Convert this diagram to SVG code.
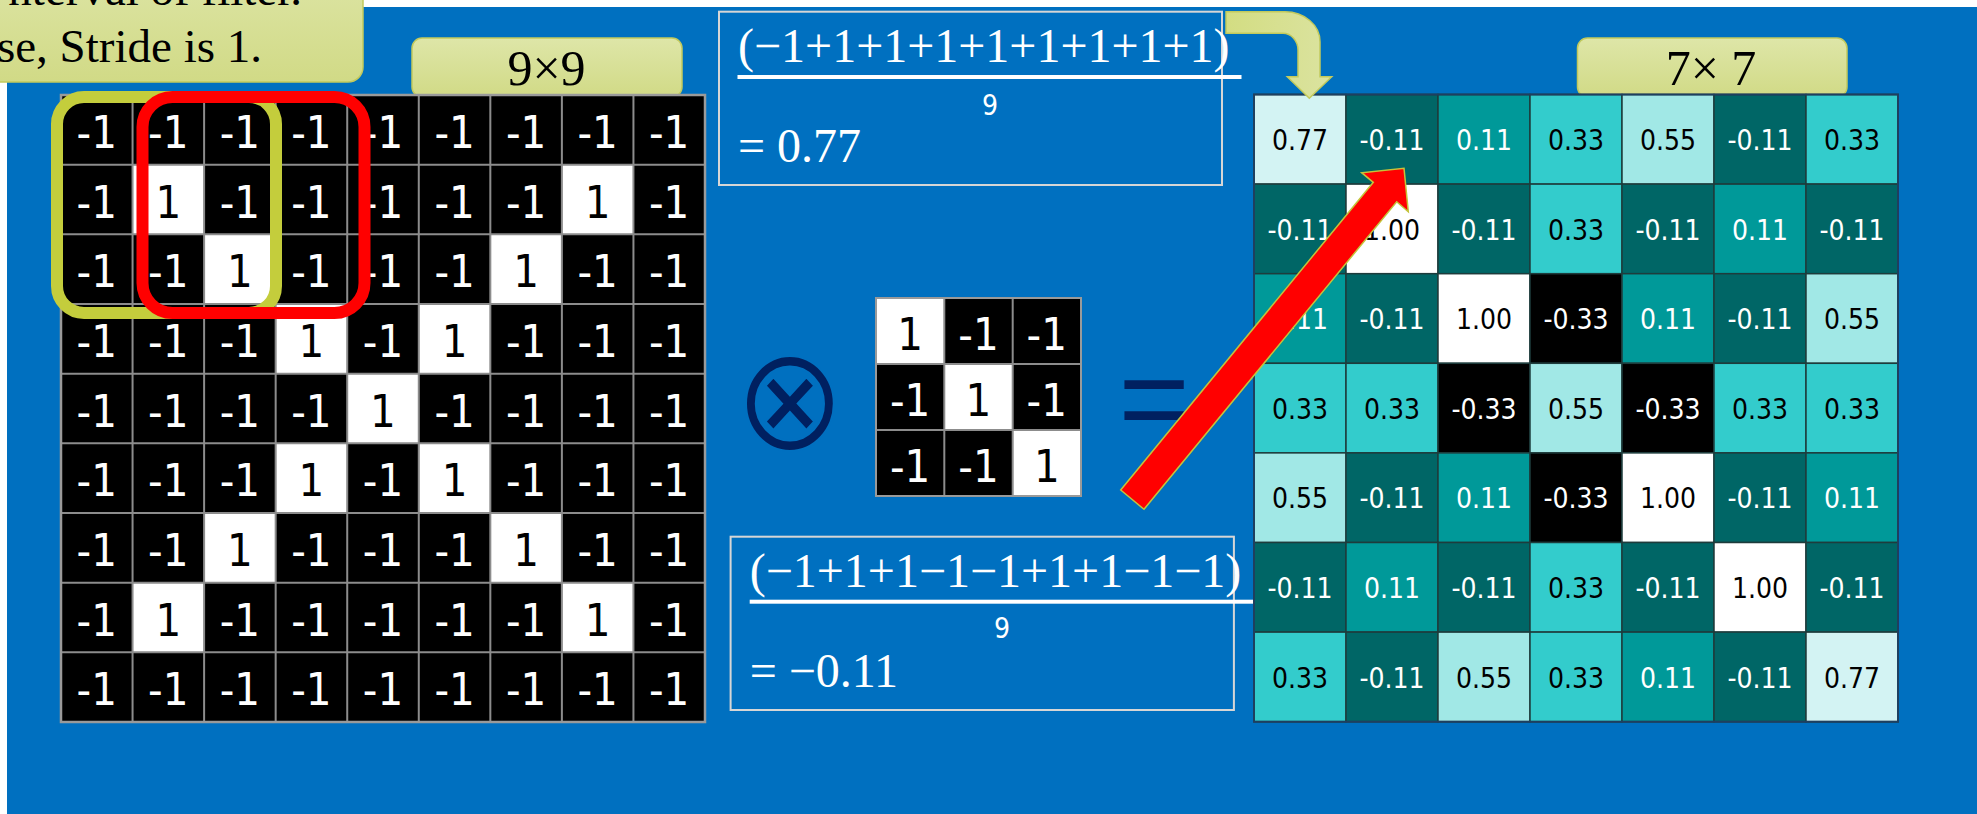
<svg xmlns="http://www.w3.org/2000/svg" width="1977" height="814" viewBox="0 0 1977 814">
<defs>
<linearGradient id="gy" x1="0" y1="0" x2="0" y2="1">
<stop offset="0" stop-color="#dee6a8"/>
<stop offset="1" stop-color="#d1da86"/>
</linearGradient>
<linearGradient id="ga" x1="0" y1="0" x2="1" y2="0">
<stop offset="0" stop-color="#d3dd82"/>
<stop offset="1" stop-color="#dbe3a0"/>
</linearGradient>
<style>
.num{font-family:"DejaVu Sans Condensed","DejaVu Sans",sans-serif;font-size:45px;text-anchor:middle}
.w{fill:#ffffff}
.b{fill:#000000}
.o{font-family:"DejaVu Sans Condensed","DejaVu Sans",sans-serif;font-size:28px;text-anchor:middle}
.ser{font-family:"Liberation Serif","Times New Roman",serif}
.frm{font-family:"Liberation Serif","Times New Roman",serif;font-size:48px;fill:#ffffff}
.nine{font-family:"DejaVu Sans Condensed","DejaVu Sans",sans-serif;font-size:28px;fill:#ffffff;text-anchor:middle}
.lbl{fill:url(#gy);stroke:#c2ca5c;stroke-width:1.5}
.gl{stroke:#8c8c8c;stroke-width:2}
.ol{stroke:#1e3c3c;stroke-width:1.5}
.cA{fill:#d3f3f3}.cB{fill:#006666}.cC{fill:#009999}.cD{fill:#33cccc}.cE{fill:#a1e8e6}.cF{fill:#ffffff}.cG{fill:#000000}
</style>
</defs>
<rect x="0" y="0" width="1977" height="814" fill="#ffffff"/>
<rect x="7" y="7" width="1970" height="807" fill="#0070c0"/>

<g id="callout">
<rect x="-40" y="-40" width="403" height="122" rx="15" class="lbl"/>
<text class="ser" x="302" y="5" font-size="47" text-anchor="end" fill="#000">nterval of filter.</text>
<text class="ser" x="262" y="62" font-size="47" text-anchor="end" fill="#000">se, Stride is 1.</text>
</g>

<g id="label-9x9">
<rect x="412" y="38" width="270" height="59" rx="10" class="lbl"/>
<text class="ser" x="546.5" y="85" font-size="50" text-anchor="middle" fill="#000">9×9</text>
</g>

<g id="input-grid">
<rect x="61" y="95" width="644" height="627" fill="#000"/>
<g fill="#fff">
<rect x="132.56" y="164.67" width="71.56" height="69.67"/>
<rect x="561.89" y="164.67" width="71.56" height="69.67"/>
<rect x="204.11" y="234.33" width="71.56" height="69.67"/>
<rect x="490.33" y="234.33" width="71.56" height="69.67"/>
<rect x="275.67" y="304" width="71.56" height="69.67"/>
<rect x="418.78" y="304" width="71.56" height="69.67"/>
<rect x="347.22" y="373.67" width="71.56" height="69.67"/>
<rect x="275.67" y="443.33" width="71.56" height="69.67"/>
<rect x="418.78" y="443.33" width="71.56" height="69.67"/>
<rect x="204.11" y="513" width="71.56" height="69.67"/>
<rect x="490.33" y="513" width="71.56" height="69.67"/>
<rect x="132.56" y="582.67" width="71.56" height="69.67"/>
<rect x="561.89" y="582.67" width="71.56" height="69.67"/>
</g>
<g class="gl">
<line x1="132.56" y1="95" x2="132.56" y2="722"/>
<line x1="204.11" y1="95" x2="204.11" y2="722"/>
<line x1="275.67" y1="95" x2="275.67" y2="722"/>
<line x1="347.22" y1="95" x2="347.22" y2="722"/>
<line x1="418.78" y1="95" x2="418.78" y2="722"/>
<line x1="490.33" y1="95" x2="490.33" y2="722"/>
<line x1="561.89" y1="95" x2="561.89" y2="722"/>
<line x1="633.44" y1="95" x2="633.44" y2="722"/>
<line x1="61" y1="164.67" x2="705" y2="164.67"/>
<line x1="61" y1="234.33" x2="705" y2="234.33"/>
<line x1="61" y1="304" x2="705" y2="304"/>
<line x1="61" y1="373.67" x2="705" y2="373.67"/>
<line x1="61" y1="443.33" x2="705" y2="443.33"/>
<line x1="61" y1="513" x2="705" y2="513"/>
<line x1="61" y1="582.67" x2="705" y2="582.67"/>
<line x1="61" y1="652.33" x2="705" y2="652.33"/>
</g>
<rect x="61" y="95" width="644" height="627" fill="none" stroke="#9a9a9a" stroke-width="2.5"/>
<g class="num">
<text class="w" x="96.8" y="148">-1</text><text class="w" x="168.3" y="148">-1</text><text class="w" x="239.9" y="148">-1</text><text class="w" x="311.4" y="148">-1</text><text class="w" x="383" y="148">-1</text><text class="w" x="454.6" y="148">-1</text><text class="w" x="526.1" y="148">-1</text><text class="w" x="597.7" y="148">-1</text><text class="w" x="669.2" y="148">-1</text>
<text class="w" x="96.8" y="217.7">-1</text><text class="b" x="168.3" y="217.7">1</text><text class="w" x="239.9" y="217.7">-1</text><text class="w" x="311.4" y="217.7">-1</text><text class="w" x="383" y="217.7">-1</text><text class="w" x="454.6" y="217.7">-1</text><text class="w" x="526.1" y="217.7">-1</text><text class="b" x="597.7" y="217.7">1</text><text class="w" x="669.2" y="217.7">-1</text>
<text class="w" x="96.8" y="287.3">-1</text><text class="w" x="168.3" y="287.3">-1</text><text class="b" x="239.9" y="287.3">1</text><text class="w" x="311.4" y="287.3">-1</text><text class="w" x="383" y="287.3">-1</text><text class="w" x="454.6" y="287.3">-1</text><text class="b" x="526.1" y="287.3">1</text><text class="w" x="597.7" y="287.3">-1</text><text class="w" x="669.2" y="287.3">-1</text>
<text class="w" x="96.8" y="357">-1</text><text class="w" x="168.3" y="357">-1</text><text class="w" x="239.9" y="357">-1</text><text class="b" x="311.4" y="357">1</text><text class="w" x="383" y="357">-1</text><text class="b" x="454.6" y="357">1</text><text class="w" x="526.1" y="357">-1</text><text class="w" x="597.7" y="357">-1</text><text class="w" x="669.2" y="357">-1</text>
<text class="w" x="96.8" y="426.7">-1</text><text class="w" x="168.3" y="426.7">-1</text><text class="w" x="239.9" y="426.7">-1</text><text class="w" x="311.4" y="426.7">-1</text><text class="b" x="383" y="426.7">1</text><text class="w" x="454.6" y="426.7">-1</text><text class="w" x="526.1" y="426.7">-1</text><text class="w" x="597.7" y="426.7">-1</text><text class="w" x="669.2" y="426.7">-1</text>
<text class="w" x="96.8" y="496.3">-1</text><text class="w" x="168.3" y="496.3">-1</text><text class="w" x="239.9" y="496.3">-1</text><text class="b" x="311.4" y="496.3">1</text><text class="w" x="383" y="496.3">-1</text><text class="b" x="454.6" y="496.3">1</text><text class="w" x="526.1" y="496.3">-1</text><text class="w" x="597.7" y="496.3">-1</text><text class="w" x="669.2" y="496.3">-1</text>
<text class="w" x="96.8" y="566">-1</text><text class="w" x="168.3" y="566">-1</text><text class="b" x="239.9" y="566">1</text><text class="w" x="311.4" y="566">-1</text><text class="w" x="383" y="566">-1</text><text class="w" x="454.6" y="566">-1</text><text class="b" x="526.1" y="566">1</text><text class="w" x="597.7" y="566">-1</text><text class="w" x="669.2" y="566">-1</text>
<text class="w" x="96.8" y="635.7">-1</text><text class="b" x="168.3" y="635.7">1</text><text class="w" x="239.9" y="635.7">-1</text><text class="w" x="311.4" y="635.7">-1</text><text class="w" x="383" y="635.7">-1</text><text class="w" x="454.6" y="635.7">-1</text><text class="w" x="526.1" y="635.7">-1</text><text class="b" x="597.7" y="635.7">1</text><text class="w" x="669.2" y="635.7">-1</text>
<text class="w" x="96.8" y="705.3">-1</text><text class="w" x="168.3" y="705.3">-1</text><text class="w" x="239.9" y="705.3">-1</text><text class="w" x="311.4" y="705.3">-1</text><text class="w" x="383" y="705.3">-1</text><text class="w" x="454.6" y="705.3">-1</text><text class="w" x="526.1" y="705.3">-1</text><text class="w" x="597.7" y="705.3">-1</text><text class="w" x="669.2" y="705.3">-1</text>
</g>
</g>

<g id="window-yellow">
<rect x="57" y="97" width="219" height="216" rx="27" fill="none" stroke="#c4cd3c" stroke-width="12"/>
</g>
<g id="window-red">
<rect x="142.5" y="97" width="222" height="216" rx="30" fill="none" stroke="#ff0000" stroke-width="12"/>
</g>

<g id="formula-1">
<rect x="719" y="11.7" width="503" height="173.3" fill="none" stroke="#d6d6d6" stroke-width="2"/>
<text class="frm" x="738" y="62">(−1+1+1+1+1+1+1+1+1)</text>
<rect x="737.5" y="75" width="504" height="4" fill="#fff"/>
<text class="nine" x="990" y="115">9</text>
<text class="frm" x="738" y="162">= 0.77</text>
</g>

<g id="formula-2">
<rect x="730.6" y="536.7" width="503.3" height="173.3" fill="none" stroke="#d6d6d6" stroke-width="2"/>
<text class="frm" x="749.7" y="587">(−1+1+1−1−1+1+1−1−1)</text>
<rect x="749.7" y="599.7" width="504" height="4" fill="#fff"/>
<text class="nine" x="1002" y="638">9</text>
<text class="frm" x="749.7" y="687">= −0.11</text>
</g>

<g id="op-conv">
<text x="790" y="0" font-family="DejaVu Sans, sans-serif" font-size="134" fill="#002060" stroke="#0070c0" stroke-width="2" text-anchor="middle" transform="translate(0,449) scale(1,1.08)">⊗</text>
</g>

<g id="filter">
<rect x="876" y="298" width="205" height="198" fill="#000"/>
<rect x="876" y="298" width="68.3" height="66" fill="#fff"/>
<rect x="944.3" y="364" width="68.4" height="66" fill="#fff"/>
<rect x="1012.7" y="430" width="68.3" height="66" fill="#fff"/>
<g class="gl">
<line x1="944.3" y1="298" x2="944.3" y2="496"/>
<line x1="1012.7" y1="298" x2="1012.7" y2="496"/>
<line x1="876" y1="364" x2="1081" y2="364"/>
<line x1="876" y1="430" x2="1081" y2="430"/>
</g>
<rect x="876" y="298" width="205" height="198" fill="none" stroke="#9a9a9a" stroke-width="2"/>
<g class="num">
<text class="b" x="910.2" y="349.5">1</text><text class="w" x="978.5" y="349.5">-1</text><text class="w" x="1046.8" y="349.5">-1</text>
<text class="w" x="910.2" y="415.5">-1</text><text class="b" x="978.5" y="415.5">1</text><text class="w" x="1046.8" y="415.5">-1</text>
<text class="w" x="910.2" y="481.5">-1</text><text class="w" x="978.5" y="481.5">-1</text><text class="b" x="1046.8" y="481.5">1</text>
</g>
</g>

<g id="op-eq">
<text x="1154" y="441" font-family="Liberation Sans, Arial, sans-serif" font-size="122" fill="#002060" text-anchor="middle">=</text>
</g>

<g id="label-7x7">
<rect x="1577.5" y="38" width="269.5" height="59" rx="10" class="lbl"/>
<text class="ser" x="1711" y="85" font-size="50" text-anchor="middle" fill="#000">7× 7</text>
</g>

<g id="output-grid">
<g class="ol">
<rect class="cA" x="1254" y="94.5" width="92" height="89.6"/><rect class="cB" x="1346" y="94.5" width="92" height="89.6"/><rect class="cC" x="1438" y="94.5" width="92" height="89.6"/><rect class="cD" x="1530" y="94.5" width="92" height="89.6"/><rect class="cE" x="1622" y="94.5" width="92" height="89.6"/><rect class="cB" x="1714" y="94.5" width="92" height="89.6"/><rect class="cD" x="1806" y="94.5" width="92" height="89.6"/>
<rect class="cB" x="1254" y="184.1" width="92" height="89.6"/><rect class="cF" x="1346" y="184.1" width="92" height="89.6"/><rect class="cB" x="1438" y="184.1" width="92" height="89.6"/><rect class="cD" x="1530" y="184.1" width="92" height="89.6"/><rect class="cB" x="1622" y="184.1" width="92" height="89.6"/><rect class="cC" x="1714" y="184.1" width="92" height="89.6"/><rect class="cB" x="1806" y="184.1" width="92" height="89.6"/>
<rect class="cC" x="1254" y="273.7" width="92" height="89.6"/><rect class="cB" x="1346" y="273.7" width="92" height="89.6"/><rect class="cF" x="1438" y="273.7" width="92" height="89.6"/><rect class="cG" x="1530" y="273.7" width="92" height="89.6"/><rect class="cC" x="1622" y="273.7" width="92" height="89.6"/><rect class="cB" x="1714" y="273.7" width="92" height="89.6"/><rect class="cE" x="1806" y="273.7" width="92" height="89.6"/>
<rect class="cD" x="1254" y="363.3" width="92" height="89.6"/><rect class="cD" x="1346" y="363.3" width="92" height="89.6"/><rect class="cG" x="1438" y="363.3" width="92" height="89.6"/><rect class="cE" x="1530" y="363.3" width="92" height="89.6"/><rect class="cG" x="1622" y="363.3" width="92" height="89.6"/><rect class="cD" x="1714" y="363.3" width="92" height="89.6"/><rect class="cD" x="1806" y="363.3" width="92" height="89.6"/>
<rect class="cE" x="1254" y="452.9" width="92" height="89.6"/><rect class="cB" x="1346" y="452.9" width="92" height="89.6"/><rect class="cC" x="1438" y="452.9" width="92" height="89.6"/><rect class="cG" x="1530" y="452.9" width="92" height="89.6"/><rect class="cF" x="1622" y="452.9" width="92" height="89.6"/><rect class="cB" x="1714" y="452.9" width="92" height="89.6"/><rect class="cC" x="1806" y="452.9" width="92" height="89.6"/>
<rect class="cB" x="1254" y="542.5" width="92" height="89.6"/><rect class="cC" x="1346" y="542.5" width="92" height="89.6"/><rect class="cB" x="1438" y="542.5" width="92" height="89.6"/><rect class="cD" x="1530" y="542.5" width="92" height="89.6"/><rect class="cB" x="1622" y="542.5" width="92" height="89.6"/><rect class="cF" x="1714" y="542.5" width="92" height="89.6"/><rect class="cB" x="1806" y="542.5" width="92" height="89.6"/>
<rect class="cD" x="1254" y="632.1" width="92" height="89.6"/><rect class="cB" x="1346" y="632.1" width="92" height="89.6"/><rect class="cE" x="1438" y="632.1" width="92" height="89.6"/><rect class="cD" x="1530" y="632.1" width="92" height="89.6"/><rect class="cC" x="1622" y="632.1" width="92" height="89.6"/><rect class="cB" x="1714" y="632.1" width="92" height="89.6"/><rect class="cA" x="1806" y="632.1" width="92" height="89.6"/>
</g>
<rect x="1254" y="94.5" width="644" height="627.2" fill="none" stroke="#1f3f5f" stroke-width="2"/>
<g class="o">
<text class="b" x="1300" y="150">0.77</text><text class="w" x="1392" y="150">-0.11</text><text class="w" x="1484" y="150">0.11</text><text class="b" x="1576" y="150">0.33</text><text class="b" x="1668" y="150">0.55</text><text class="w" x="1760" y="150">-0.11</text><text class="b" x="1852" y="150">0.33</text>
<text class="w" x="1300" y="239.6">-0.11</text><text class="b" x="1392" y="239.6">1.00</text><text class="w" x="1484" y="239.6">-0.11</text><text class="b" x="1576" y="239.6">0.33</text><text class="w" x="1668" y="239.6">-0.11</text><text class="w" x="1760" y="239.6">0.11</text><text class="w" x="1852" y="239.6">-0.11</text>
<text class="w" x="1300" y="329.2">0.11</text><text class="w" x="1392" y="329.2">-0.11</text><text class="b" x="1484" y="329.2">1.00</text><text class="w" x="1576" y="329.2">-0.33</text><text class="w" x="1668" y="329.2">0.11</text><text class="w" x="1760" y="329.2">-0.11</text><text class="b" x="1852" y="329.2">0.55</text>
<text class="b" x="1300" y="418.8">0.33</text><text class="b" x="1392" y="418.8">0.33</text><text class="w" x="1484" y="418.8">-0.33</text><text class="b" x="1576" y="418.8">0.55</text><text class="w" x="1668" y="418.8">-0.33</text><text class="b" x="1760" y="418.8">0.33</text><text class="b" x="1852" y="418.8">0.33</text>
<text class="b" x="1300" y="508.4">0.55</text><text class="w" x="1392" y="508.4">-0.11</text><text class="w" x="1484" y="508.4">0.11</text><text class="w" x="1576" y="508.4">-0.33</text><text class="b" x="1668" y="508.4">1.00</text><text class="w" x="1760" y="508.4">-0.11</text><text class="w" x="1852" y="508.4">0.11</text>
<text class="w" x="1300" y="598">-0.11</text><text class="w" x="1392" y="598">0.11</text><text class="w" x="1484" y="598">-0.11</text><text class="b" x="1576" y="598">0.33</text><text class="w" x="1668" y="598">-0.11</text><text class="b" x="1760" y="598">1.00</text><text class="w" x="1852" y="598">-0.11</text>
<text class="b" x="1300" y="687.6">0.33</text><text class="w" x="1392" y="687.6">-0.11</text><text class="b" x="1484" y="687.6">0.55</text><text class="b" x="1576" y="687.6">0.33</text><text class="w" x="1668" y="687.6">0.11</text><text class="w" x="1760" y="687.6">-0.11</text><text class="b" x="1852" y="687.6">0.77</text>
</g>
</g>

<g id="connectors">
<path id="bent-arrow" d="M1226,11.7 H1285 A35,30 0 0 1 1320,41.7 V76.7 H1331.7 L1309.3,98.3 L1287.3,76.7 H1298 V50 A15,16.7 0 0 0 1283,33.3 H1226 Z" fill="url(#ga)" stroke="#c2ca5c" stroke-width="1.5"/>
<polygon id="red-arrow" points="1120.7,490 1373.3,182.3 1361.7,172.7 1404,168.3 1408.3,211.7 1396.7,201.7 1144,509.3" fill="#ff0000" stroke="#c4c43a" stroke-width="1.5" stroke-linejoin="miter"/>
</g>
</svg>
